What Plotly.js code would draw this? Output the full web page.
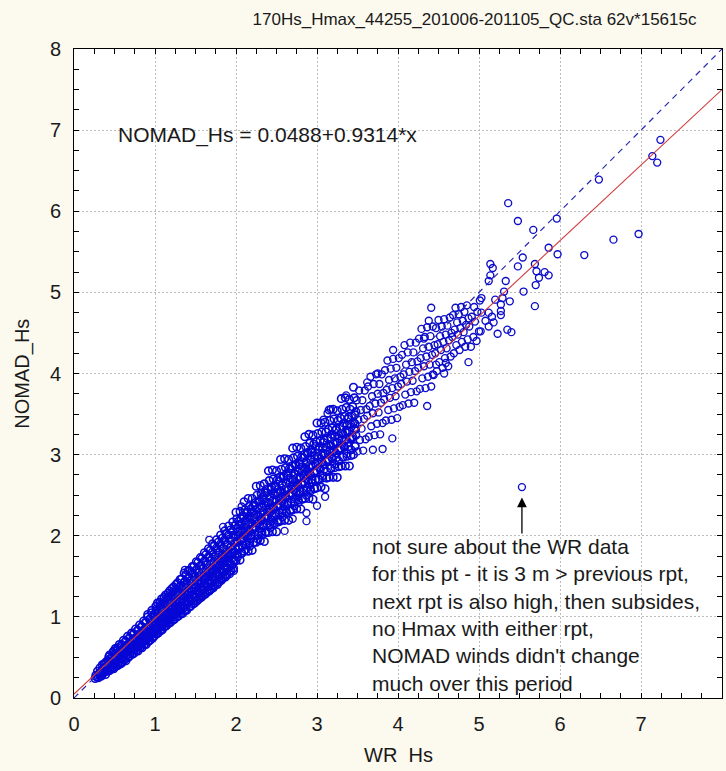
<!DOCTYPE html>
<html>
<head>
<meta charset="utf-8">
<script src="https://cdn.plot.ly/plotly-3.0.1.min.js"></script>
<style>html,body{margin:0;padding:0;background:#fcf9ee;}#chart{width:726px;height:771px;}</style>
</head>
<body>
<div id="chart"></div>
<script>
// ---------- Data (WR Hs vs NOMAD Hs, metres) ----------
// Dense core, low range
var wrLow = [
0.26,0.27,0.28,
0.30,0.31,0.29,0.32,
0.34,0.35,0.36,0.35,0.34,
0.39,0.40,0.41,0.40,0.42,0.39,
0.44,0.45,0.46,0.45,0.47,0.44,0.46,
0.49,0.50,0.51,0.50,0.52,0.49,0.51,
0.54,0.55,0.56,0.55,0.57,0.54,0.56,0.55,
0.59,0.60,0.61,0.60,0.62,0.59,0.61,0.60,
0.64,0.65,0.66,0.65,0.67,0.64,0.66,0.65,
0.69,0.70,0.71,0.70,0.72,0.69,0.71,0.70,0.72,
0.74,0.75,0.76,0.75,0.77,0.74,0.76,0.75,0.77,
0.79,0.80,0.81,0.80,0.82,0.79,0.81,0.80,0.82,
0.84,0.85,0.86,0.85,0.87,0.84,0.86,0.85,0.87,0.86,
0.89,0.90,0.91,0.90,0.92,0.89,0.91,0.90,0.92,0.91,
0.94,0.95,0.96,0.95,0.97,0.94,0.96,0.95,0.97,0.96
];
var nomadLow = [
0.24,0.28,0.26,
0.25,0.30,0.33,0.27,
0.27,0.31,0.36,0.41,0.33,
0.29,0.35,0.40,0.45,0.33,0.43,
0.34,0.38,0.44,0.49,0.36,0.53,0.46,
0.36,0.42,0.47,0.54,0.39,0.58,0.61,
0.40,0.44,0.51,0.56,0.42,0.62,0.66,0.53,
0.43,0.49,0.54,0.60,0.47,0.66,0.71,0.57,
0.46,0.53,0.58,0.64,0.50,0.70,0.76,0.61,
0.52,0.56,0.62,0.69,0.54,0.74,0.80,0.65,0.59,
0.55,0.61,0.66,0.72,0.58,0.79,0.85,0.69,0.63,
0.58,0.64,0.71,0.77,0.62,0.83,0.90,0.74,0.67,
0.62,0.69,0.74,0.80,0.66,0.88,0.95,0.77,0.71,0.84,
0.66,0.72,0.79,0.85,0.70,0.93,1.00,0.82,0.75,1.03,
0.71,0.77,0.83,0.90,0.74,0.97,1.05,0.87,0.80,1.08
];
var wrLowFill = [
0.32,0.33,0.32,
0.37,0.38,0.37,
0.42,0.43,0.42,0.43,
0.47,0.48,0.47,0.48,
0.52,0.53,0.52,0.53,
0.57,0.58,0.57,0.58,
0.62,0.63,0.62,0.63,
0.67,0.68,0.67,0.68,
0.72,0.73,0.72,0.73,
0.77,0.78,0.77,0.78,
0.82,0.83,0.82,0.83,
0.87,0.88,0.87,0.88,
0.92,0.93,0.92,0.93,
0.97,0.98,0.97,0.98
];
var nomadLowFill = [
0.28,0.32,0.37,
0.31,0.37,0.42,
0.34,0.40,0.46,0.51,
0.37,0.43,0.50,0.56,
0.40,0.47,0.54,0.60,
0.44,0.51,0.58,0.64,
0.47,0.55,0.62,0.69,
0.51,0.59,0.66,0.74,
0.55,0.63,0.71,0.79,
0.59,0.67,0.75,0.83,
0.63,0.71,0.80,0.88,
0.66,0.75,0.84,0.93,
0.70,0.79,0.88,0.97,
0.74,0.83,0.93,1.02
];
// Dense core, 1-2 m
var wrMid = [
0.99,1.00,1.01,1.00,1.02,0.99,1.01,1.00,1.02,1.01,
1.04,1.05,1.06,1.05,1.07,1.04,1.06,1.05,1.07,1.06,
1.09,1.10,1.11,1.10,1.12,1.09,1.11,1.10,1.12,1.11,
1.14,1.15,1.16,1.15,1.17,1.14,1.16,1.15,1.17,1.16,
1.19,1.20,1.21,1.20,1.22,1.19,1.21,1.20,1.22,1.21,
1.24,1.25,1.26,1.25,1.27,1.24,1.26,1.25,1.27,1.26,
1.29,1.30,1.31,1.30,1.32,1.29,1.31,1.30,1.32,1.31,
1.34,1.35,1.36,1.35,1.37,1.34,1.36,1.35,1.37,1.36,
1.39,1.40,1.41,1.40,1.42,1.39,1.41,1.40,1.42,1.41,
1.44,1.45,1.46,1.45,1.47,1.44,1.46,1.45,1.47,1.46,
1.49,1.50,1.51,1.50,1.52,1.49,1.51,1.50,1.52,1.51,
1.54,1.55,1.56,1.55,1.57,1.54,1.56,1.55,1.57,1.56,
1.59,1.60,1.61,1.60,1.62,1.59,1.61,1.60,1.62,1.61,
1.64,1.65,1.66,1.65,1.67,1.64,1.66,1.65,1.67,1.66,
1.69,1.70,1.71,1.70,1.72,1.69,1.71,1.70,1.72,1.71,
1.74,1.75,1.76,1.75,1.77,1.74,1.76,1.75,1.77,1.76,
1.79,1.80,1.81,1.80,1.82,1.79,1.81,1.80,1.82,1.81,
1.84,1.85,1.86,1.85,1.87,1.84,1.86,1.85,1.87,1.86,
1.89,1.90,1.91,1.90,1.92,1.89,1.91,1.90,1.92,1.91,
1.94,1.95,1.96,1.95,1.97,1.94,1.96,1.95,1.97,1.96
];
var nomadMid = [
0.76,0.81,0.87,0.93,0.79,1.00,1.07,0.90,0.84,1.13,
0.80,0.86,0.92,0.98,0.83,1.05,1.12,0.95,0.89,1.18,
0.84,0.90,0.96,1.03,0.88,1.10,1.17,0.99,0.93,1.24,
0.89,0.94,1.01,1.07,0.92,1.15,1.22,1.04,0.98,1.29,
0.93,0.99,1.05,1.12,0.96,1.20,1.27,1.09,1.02,1.35,
0.97,1.03,1.10,1.17,1.00,1.24,1.32,1.13,1.06,1.40,
1.01,1.07,1.14,1.21,1.04,1.29,1.37,1.18,1.11,1.46,
1.04,1.11,1.18,1.26,1.08,1.34,1.42,1.22,1.15,1.54,
1.08,1.16,1.23,1.31,1.12,1.39,1.48,1.27,1.19,1.57,
1.13,1.20,1.27,1.35,1.16,1.44,1.53,1.31,1.24,1.62,
1.17,1.24,1.32,1.40,1.20,1.49,1.58,1.36,1.28,1.68,
1.22,1.29,1.36,1.45,1.25,1.54,1.63,1.41,1.33,1.73,
1.26,1.33,1.41,1.50,1.29,1.59,1.69,1.46,1.37,1.79,
1.30,1.37,1.45,1.54,1.33,1.64,1.74,1.50,1.41,1.84,
1.34,1.42,1.50,1.59,1.38,1.69,1.80,1.55,1.46,1.90,
1.39,1.46,1.55,1.64,1.42,1.74,1.85,1.60,1.51,1.95,
1.43,1.51,1.59,1.69,1.47,1.79,1.90,1.64,1.55,2.01,
1.48,1.55,1.64,1.74,1.51,1.84,1.95,1.69,1.60,2.06,
1.52,1.60,1.69,1.79,1.56,1.89,2.01,1.74,1.65,2.12,
1.57,1.64,1.73,1.83,1.60,1.94,2.06,1.79,1.69,2.17
];
var wrMidFill = [
1.02,1.03,1.02,1.03,1.02,1.03,
1.07,1.08,1.07,1.08,1.07,1.08,
1.12,1.13,1.12,1.13,1.12,1.13,
1.17,1.18,1.17,1.18,1.17,1.18,
1.22,1.23,1.22,1.23,1.22,1.23,
1.27,1.28,1.27,1.28,1.27,1.28,
1.32,1.33,1.32,1.33,1.32,1.33,
1.37,1.38,1.37,1.38,1.37,1.38,
1.42,1.43,1.42,1.43,1.42,1.43,
1.47,1.48,1.47,1.48,1.47,1.48,
1.52,1.53,1.52,1.53,1.52,1.53,
1.57,1.58,1.57,1.58,1.57,1.58,
1.62,1.63,1.62,1.63,1.62,1.63,
1.67,1.68,1.67,1.68,1.67,1.68,
1.72,1.73,1.72,1.73,1.72,1.73,
1.77,1.78,1.77,1.78,1.77,1.78,
1.82,1.83,1.82,1.83,1.82,1.83,
1.87,1.88,1.87,1.88,1.87,1.88,
1.92,1.93,1.92,1.93,1.92,1.93,
1.97,1.98,1.97,1.98,1.97,1.98
];
var nomadMidFill = [
0.80,0.88,0.96,1.03,1.10,1.17,
0.84,0.93,1.01,1.08,1.15,1.22,
0.88,0.97,1.05,1.13,1.20,1.27,
0.92,1.01,1.10,1.17,1.25,1.32,
0.96,1.06,1.14,1.22,1.30,1.37,
1.00,1.10,1.19,1.27,1.35,1.42,
1.04,1.14,1.23,1.31,1.39,1.47,
1.08,1.18,1.28,1.36,1.44,1.52,
1.12,1.22,1.32,1.41,1.49,1.57,
1.16,1.27,1.36,1.45,1.53,1.62,
1.20,1.31,1.41,1.50,1.58,1.67,
1.24,1.35,1.45,1.54,1.63,1.72,
1.28,1.39,1.49,1.59,1.68,1.77,
1.32,1.43,1.54,1.64,1.73,1.82,
1.36,1.48,1.58,1.68,1.77,1.87,
1.40,1.52,1.63,1.73,1.82,1.92,
1.45,1.56,1.67,1.77,1.87,1.97,
1.49,1.61,1.72,1.82,1.92,2.02,
1.53,1.65,1.76,1.86,1.96,2.07,
1.57,1.69,1.80,1.91,2.01,2.12
];
// Core, 2-3.5 m
var wrUpper = [
2.00,2.02,1.99,2.01,2.00,2.02,1.99,2.01,2.00,
2.05,2.07,2.04,2.06,2.05,2.07,2.04,2.06,2.05,
2.10,2.12,2.09,2.11,2.10,2.12,2.09,2.11,2.10,
2.15,2.17,2.14,2.16,2.15,2.17,2.14,2.16,2.15,
2.20,2.22,2.19,2.21,2.20,2.22,2.19,2.21,2.20,
2.25,2.27,2.24,2.26,2.25,2.27,2.24,2.26,2.25,
2.30,2.32,2.29,2.31,2.30,2.32,2.29,2.31,2.30,
2.35,2.37,2.34,2.36,2.35,2.37,2.34,2.36,2.35,
2.40,2.42,2.39,2.41,2.40,2.42,2.39,2.41,2.40,
2.45,2.47,2.44,2.46,2.45,2.47,2.44,2.46,2.45,
2.50,2.52,2.49,2.51,2.50,2.52,2.49,2.51,2.50,
2.55,2.57,2.54,2.56,2.55,2.57,2.54,2.56,2.55,
2.60,2.62,2.59,2.61,2.60,2.62,2.59,2.61,2.60,
2.65,2.67,2.64,2.66,2.65,2.67,2.64,2.66,2.65,
2.70,2.72,2.69,2.71,2.70,2.72,2.69,2.71,2.70,
2.75,2.77,2.74,2.76,2.75,2.77,2.74,2.76,2.75,
2.80,2.82,2.79,2.81,2.80,2.82,2.79,2.81,2.80,
2.85,2.87,2.84,2.86,2.85,2.87,2.84,2.86,2.85,
2.90,2.92,2.89,2.91,2.90,2.92,2.89,2.91,2.90,
2.95,2.97,2.94,2.96,2.95,2.97,2.94,2.96,2.95,
3.00,3.02,2.99,3.01,3.00,3.02,2.99,3.01,3.00,
3.05,3.07,3.04,3.06,3.05,3.07,3.04,3.06,3.05,
3.10,3.12,3.09,3.11,3.10,3.12,3.09,3.11,3.10,
3.15,3.17,3.14,3.16,3.15,3.17,3.14,3.16,3.15,
3.20,3.22,3.19,3.21,3.20,3.22,3.19,3.21,3.20,
3.25,3.27,3.24,3.26,3.25,3.27,3.24,3.26,3.25,
3.30,3.32,3.29,3.31,3.30,3.32,3.29,3.31,3.30,
3.35,3.37,3.34,3.36,3.35,3.37,3.34,3.36,3.35,
3.40,3.42,3.39,3.41,3.40,3.42,3.39,3.41,3.40,
3.45,3.47,3.44,3.46,3.45,3.47,3.44,3.46,3.45
];
var nomadUpper = [
1.69,1.77,1.85,1.93,1.99,2.05,2.13,2.21,2.29,
1.70,1.79,1.87,1.94,2.01,2.07,2.14,2.21,2.30,
1.81,1.89,1.97,2.04,2.10,2.17,2.24,2.32,2.42,
1.81,1.91,1.99,2.07,2.14,2.20,2.28,2.36,2.46,
1.82,1.92,2.01,2.08,2.15,2.22,2.29,2.36,2.46,
1.92,2.01,2.10,2.19,2.26,2.33,2.41,2.50,2.61,
1.94,2.04,2.13,2.21,2.28,2.35,2.43,2.52,2.62,
1.93,2.04,2.14,2.22,2.30,2.37,2.45,2.53,2.64,
2.04,2.14,2.24,2.33,2.41,2.49,2.58,2.68,2.80,
2.05,2.16,2.26,2.35,2.43,2.51,2.60,2.70,2.81,
2.05,2.17,2.27,2.36,2.44,2.52,2.60,2.69,2.80,
2.18,2.28,2.38,2.47,2.55,2.63,2.72,2.82,2.94,
2.19,2.30,2.40,2.49,2.57,2.65,2.74,2.84,2.95,
2.19,2.31,2.41,2.50,2.58,2.66,2.74,2.83,2.94,
2.32,2.42,2.52,2.61,2.69,2.77,2.86,2.96,3.08,
2.33,2.44,2.54,2.63,2.71,2.79,2.88,2.98,3.09,
2.33,2.45,2.55,2.64,2.72,2.80,2.88,2.97,3.08,
2.46,2.56,2.66,2.75,2.83,2.91,3.00,3.10,3.22,
2.46,2.57,2.68,2.77,2.86,2.94,3.03,3.14,3.25,
2.45,2.58,2.69,2.78,2.86,2.95,3.03,3.13,3.24,
2.59,2.69,2.80,2.89,2.98,3.06,3.16,3.26,3.39,
2.60,2.71,2.82,2.91,3.00,3.08,3.17,3.28,3.39,
2.58,2.71,2.82,2.92,3.01,3.09,3.18,3.28,3.40,
2.72,2.83,2.94,3.04,3.12,3.21,3.31,3.42,3.55,
2.72,2.84,2.95,3.05,3.14,3.23,3.33,3.44,3.56,
2.72,2.85,2.96,3.06,3.15,3.23,3.32,3.42,3.54,
2.86,2.97,3.08,3.18,3.26,3.35,3.45,3.56,3.69,
2.86,2.98,3.09,3.19,3.28,3.37,3.47,3.58,3.70,
2.86,2.99,3.10,3.20,3.29,3.37,3.46,3.56,3.68,
3.00,3.11,3.22,3.32,3.40,3.49,3.59,3.70,3.83
];
var wrUpperFill = [
2.02,2.03,2.02,2.03,2.02,2.03,
2.07,2.08,2.07,2.08,2.07,2.08,
2.12,2.13,2.12,2.13,2.12,2.13,
2.17,2.18,2.17,2.18,2.17,2.18,
2.22,2.23,2.22,2.23,2.22,2.23,
2.27,2.28,2.27,2.28,2.27,2.28,
2.32,2.33,2.32,2.33,2.32,2.33,
2.37,2.38,2.37,2.38,2.37,2.38,
2.42,2.43,2.42,2.43,2.42,2.43,
2.47,2.48,2.47,2.48,2.47,2.48,
2.52,2.53,2.52,2.53,2.52,2.53,
2.57,2.58,2.57,2.58,2.57,2.58,
2.62,2.63,2.62,2.63,2.62,2.63,
2.67,2.68,2.67,2.68,2.67,2.68,
2.72,2.73,2.72,2.73,2.72,2.73,
2.77,2.78,2.77,2.78,2.77,2.78,
2.82,2.83,2.82,2.83,2.82,2.83,
2.87,2.88,2.87,2.88,2.87,2.88,
2.92,2.93,2.92,2.93,2.92,2.93,
2.97,2.98,2.97,2.98,2.97,2.98,
3.02,3.03,3.02,3.03,
3.07,3.08,3.07,3.08,
3.12,3.13,3.12,3.13,
3.17,3.18,3.17,3.18,
3.22,3.23,3.22,3.23,
3.27,3.28,3.27,3.28,
3.32,3.33,3.32,3.33,
3.37,3.38,3.37,3.38,
3.42,3.43,3.42,3.43,
3.47,3.48,3.47,3.48
];
var nomadUpperFill = [
1.74,1.84,1.92,2.00,2.09,2.18,
1.78,1.88,1.96,2.05,2.14,2.24,
1.83,1.93,2.01,2.10,2.19,2.29,
1.87,1.97,2.05,2.14,2.23,2.33,
1.92,2.02,2.10,2.19,2.28,2.38,
1.96,2.06,2.15,2.24,2.33,2.43,
2.01,2.11,2.19,2.28,2.37,2.48,
2.05,2.15,2.24,2.33,2.42,2.53,
2.10,2.20,2.29,2.38,2.47,2.57,
2.14,2.24,2.33,2.42,2.52,2.62,
2.19,2.29,2.38,2.47,2.57,2.67,
2.23,2.33,2.42,2.52,2.62,2.72,
2.28,2.38,2.47,2.56,2.66,2.77,
2.32,2.42,2.52,2.61,2.71,2.82,
2.37,2.47,2.56,2.66,2.76,2.87,
2.41,2.51,2.61,2.70,2.80,2.91,
2.46,2.56,2.65,2.75,2.85,2.96,
2.50,2.60,2.70,2.80,2.90,3.01,
2.55,2.65,2.75,2.85,2.95,3.06,
2.59,2.69,2.79,2.89,2.99,3.10,
2.70,2.84,2.97,3.10,
2.74,2.88,3.02,3.15,
2.79,2.93,3.06,3.20,
2.83,2.97,3.11,3.25,
2.88,3.02,3.16,3.30,
2.92,3.06,3.20,3.34,
2.97,3.11,3.25,3.39,
3.01,3.15,3.29,3.44,
3.06,3.20,3.34,3.48,
3.10,3.24,3.38,3.53
];
// Thinner cloud, 3.5-5 m
var wrHigh = [
3.50,3.53,3.48,3.51,3.54,3.49,3.52,
3.57,3.60,3.55,3.58,3.61,3.56,3.59,
3.64,3.67,3.62,3.65,3.68,3.63,3.66,
3.71,3.74,3.69,3.72,3.75,3.70,3.73,
3.78,3.81,3.76,3.79,3.82,3.77,3.80,
3.85,3.88,3.83,3.86,3.89,3.84,3.87,
3.92,3.95,3.90,3.93,3.96,3.91,3.94,
3.99,4.02,3.97,4.00,4.03,3.98,4.01,
4.06,4.09,4.04,4.07,4.10,4.05,4.08,
4.13,4.16,4.11,4.14,4.17,4.12,4.15,
4.20,4.23,4.18,4.21,4.24,4.19,4.22,
4.27,4.30,4.25,4.28,4.31,4.26,4.29,
4.34,4.37,4.32,4.35,4.38,4.33,4.36,
4.41,4.44,4.39,4.42,4.45,4.40,4.43,
4.48,4.51,4.46,4.49,4.52,4.47,4.50,
4.55,4.58,4.53,4.56,4.59,4.54,4.57,
4.62,4.65,4.60,4.63,4.66,4.61,4.64,
4.69,4.72,4.67,4.70,4.73,4.68,4.71,
4.76,4.79,4.74,4.77,4.80,4.75,4.78,
4.83,4.86,4.81,4.84,4.87,4.82,4.85,
4.90,4.93,4.88,4.91,4.94,
4.97,5.00,4.95,4.98,5.01
];
var nomadHigh = [
3.04,3.18,3.31,3.43,3.55,3.67,3.79,
3.05,3.19,3.32,3.44,3.56,3.67,3.79,
3.22,3.35,3.48,3.60,3.72,3.84,3.96,
3.24,3.38,3.51,3.63,3.75,3.87,3.99,
3.25,3.39,3.52,3.64,3.76,3.87,3.99,
3.42,3.55,3.68,3.80,3.92,4.04,4.16,
3.43,3.57,3.70,3.82,3.94,4.06,4.18,
3.45,3.59,3.72,3.84,3.96,4.07,4.19,
3.61,3.74,3.87,3.99,4.11,4.23,4.35,
3.63,3.77,3.90,4.02,4.14,4.26,4.38,
3.64,3.78,3.91,4.03,4.15,4.26,4.38,
3.81,3.94,4.07,4.19,4.31,4.43,4.55,
3.82,3.96,4.09,4.21,4.33,4.45,4.57,
3.84,3.98,4.11,4.23,4.35,4.46,4.58,
4.03,4.14,4.25,4.36,4.46,4.56,4.66,
4.07,4.19,4.29,4.39,4.48,4.58,4.67,
4.09,4.21,4.31,4.41,4.50,4.59,4.69,
4.25,4.35,4.45,4.54,4.63,4.72,4.81,
4.29,4.39,4.48,4.56,4.65,4.73,4.82,
4.33,4.42,4.51,4.60,4.68,4.76,4.84,
4.33,4.45,4.58,4.70,4.82,
4.40,4.52,4.64,4.76,4.90
];
// Individually visible scattered points
var wrScatter = [
7.24,7.14,7.20,6.48,5.36,5.48,5.67,5.96,6.66,6.97,
6.30,5.97,5.86,5.54,5.48,5.69,5.71,5.74,5.70,5.81,
5.86,5.55,5.69,5.14,5.17,5.14,5.12,5.33,5.31,5.20,
5.29,5.38,5.27,5.27,5.27,5.03,5.03,5.12,5.16,5.08,
5.18,5.12,5.23,5.35,5.40,5.02,
3.36,3.94,4.41,4.38,4.32,4.36,3.93,3.81,3.69,3.13,
3.17,3.08,4.87,2.60,2.70,2.87,2.87,3.10,3.00,1.51,
1.59,1.88,1.76,1.67,1.37,1.84,2.07,2.31,3.62,3.75,
4.47,4.59,4.43,4.57
];
var nomadScatter = [
6.88,6.68,6.60,6.39,6.10,5.88,5.77,5.91,5.65,5.72,
5.46,5.47,5.55,5.43,5.32,5.35,5.26,5.18,5.09,5.25,
5.21,5.01,4.83,5.35,5.30,5.21,5.14,5.14,5.01,4.91,
4.93,4.89,4.85,4.77,4.72,4.93,4.75,4.75,4.70,4.65,
4.63,4.58,4.49,4.54,4.51,4.52,
3.73,4.29,4.81,4.65,4.43,3.60,3.20,3.07,3.06,3.51,
3.56,3.43,4.14,2.06,2.21,2.28,2.18,2.48,2.37,1.19,
1.27,1.58,1.47,1.95,1.58,2.11,2.36,2.51,3.89,4.00,
4.11,4.13,3.99,4.00
];
// The questioned WR report (arrowed)
var flaggedWr = [5.53];
var flaggedNomad = [2.60];

// Regression reported on the chart: NOMAD_Hs = 0.0488 + 0.9314*x
var fitIntercept = 0.0488;
var fitSlope = 0.9314;
var lineX = [0, 8];

var axisTicks = [0, 1, 2, 3, 4, 5, 6, 7, 8];
var titleText = '170Hs_Hmax_44255_201006-201105_QC.sta 62v*15615c';
var eqText = 'NOMAD_Hs = 0.0488+0.9314*x';
var noteLines = [
  'not sure about the WR data',
  'for this pt - it is 3 m &gt; previous rpt,',
  'next rpt is also high, then subsides,',
  'no Hmax with either rpt,',
  "NOMAD winds didn't change",
  'much over this period'
];

// ---------- Build ----------
function merge(groups){
  var xs = [], ys = [];
  groups.forEach(function(p, i){
    if (p[0].length !== p[1].length) { console.error('length mismatch in group ' + i + ': ' + p[0].length + ' vs ' + p[1].length); }
    var n = Math.min(p[0].length, p[1].length);
    for (var k = 0; k < n; k++) { xs.push(p[0][k]); ys.push(p[1][k]); }
  });
  return [xs, ys];
}
var core = merge([[wrLow,nomadLow],[wrLowFill,nomadLowFill],[wrMid,nomadMid],[wrMidFill,nomadMidFill],
                  [wrUpper,nomadUpper],[wrUpperFill,nomadUpperFill]]);
var outer = merge([[wrHigh,nomadHigh],[wrScatter,nomadScatter],[flaggedWr,flaggedNomad]]);

var ptColor = '#0c0cca';
var traces = [
  {type:'scatter', mode:'markers', x:core[0], y:core[1], hoverinfo:'skip',
   marker:{symbol:'circle-open', size:7.5, color:'#0707d6', line:{width:1.6, color:'#0707d6'}}},
  {type:'scatter', mode:'markers', x:outer[0], y:outer[1], hoverinfo:'skip',
   marker:{symbol:'circle-open', size:7, color:ptColor, line:{width:1.35, color:ptColor}}},
  {type:'scatter', mode:'lines', x:lineX, y:lineX.slice(), hoverinfo:'skip',
   line:{color:'#2a2ab4', width:1.2, dash:'6px,5px'}},
  {type:'scatter', mode:'lines', x:lineX, y:lineX.map(function(v){return fitIntercept + fitSlope*v;}), hoverinfo:'skip',
   line:{color:'#d03a3a', width:1.1}}
];

function axisCfg(standoff){
  return {
    range:[0,8], tickmode:'array', tickvals:axisTicks, ticktext:axisTicks.map(String),
    showline:true, linecolor:'#000', linewidth:1, mirror:'ticks',
    ticks:'inside', ticklen:5, tickwidth:1, tickcolor:'#000',
    showgrid:true, gridcolor:'#bcbcbc', gridwidth:1, griddash:'2px,2px',
    zeroline:false, fixedrange:true, automargin:false,
    ticklabelstandoff: standoff,
    minor:{dtick:0.25, tick0:0, ticks:'inside', ticklen:5, tickwidth:1, tickcolor:'#000', showgrid:false},
    tickfont:{family:'"Liberation Sans", Arial, sans-serif', size:20, color:'#1a1a1a'}
  };
}

var layout = {
  width:726, height:771,
  margin:{l:74, r:4, t:49, b:73, pad:0},
  paper_bgcolor:'#fcf9ee', plot_bgcolor:'#ffffff',
  showlegend:false,
  font:{family:'"Liberation Sans", Arial, sans-serif', size:20, color:'#1a1a1a'},
  title:{text:titleText, font:{family:'"Liberation Sans", Arial, sans-serif', size:17, color:'#1a1a1a'},
         x:0.6536, xref:'container', xanchor:'center', y:0.975, yref:'container', yanchor:'middle'},
  xaxis:axisCfg(8),
  yaxis:axisCfg(8),
  annotations:[
    {text:eqText, xref:'x', yref:'y', x:0.52, y:6.94, xanchor:'left', yanchor:'middle', showarrow:false,
     font:{size:21, color:'#1a1a1a'}},
    {text:noteLines.join('<br>'), xref:'x', yref:'y', x:3.65, y:1.025, xanchor:'left', yanchor:'middle', align:'left', showarrow:false,
     font:{size:21, color:'#1a1a1a'}},
    {text:'', xref:'x', yref:'y', x:flaggedWr[0], y:flaggedNomad[0]-0.13, axref:'x', ayref:'y', ax:flaggedWr[0], ay:flaggedNomad[0]-0.59,
     showarrow:true, arrowhead:2, arrowsize:1.5, arrowwidth:1.3, arrowcolor:'#000'},
    {text:'WR\u00a0 Hs', xref:'paper', yref:'paper', x:0.5, y:-0.088, xanchor:'center', yanchor:'middle', showarrow:false,
     font:{size:20, color:'#1a1a1a'}},
    {text:'NOMAD_Hs', xref:'paper', yref:'paper', x:-0.080, y:0.5, xanchor:'center', yanchor:'middle', textangle:-90, showarrow:false,
     font:{size:20, color:'#1a1a1a'}}
  ]
};

Plotly.newPlot('chart', traces, layout, {staticPlot:true, displayModeBar:false});
</script>
</body>
</html>
